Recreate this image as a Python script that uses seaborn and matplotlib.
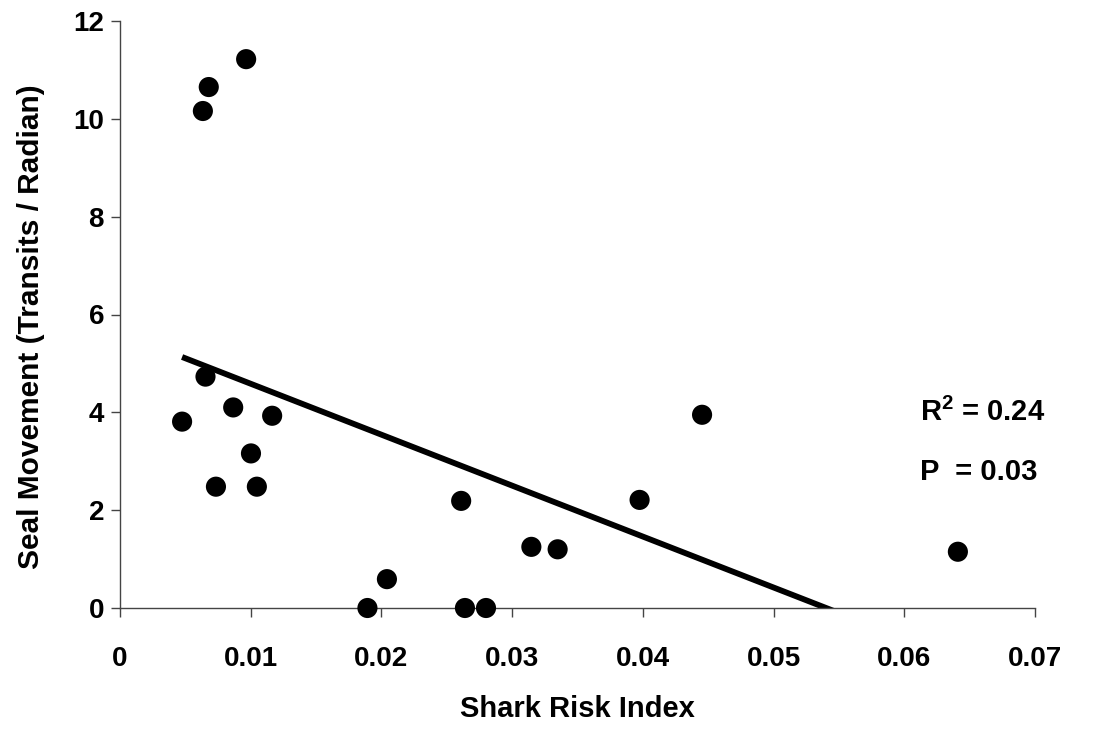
import matplotlib
matplotlib.use("Agg")
import matplotlib.pyplot as plt
import seaborn as sns
import pandas as pd

shark_risk = [0.00965, 0.00679, 0.00634,
              0.00475, 0.00654, 0.00866, 0.01164, 0.01002, 0.00734, 0.01047,
              0.0261, 0.03147, 0.03348, 0.02042, 0.01893, 0.02639, 0.0280,
              0.04453, 0.03975, 0.0641]
seal_movement = [11.22, 10.65, 10.16,
                 3.81, 4.73, 4.10, 3.93, 3.16, 2.48, 2.48,
                 2.19, 1.25, 1.20, 0.59, 0.0, 0.0, 0.0,
                 3.95, 2.21, 1.15]
x_ticks = [0, 0.01, 0.02, 0.03, 0.04, 0.05, 0.06, 0.07]
x_tick_labels = ["0", "0.01", "0.02", "0.03", "0.04", "0.05", "0.06", "0.07"]
y_ticks = [0, 2, 4, 6, 8, 10, 12]
stats_lines = [r"$\mathbf{R^{2}}$ = 0.24", "P  = 0.03"]

df = pd.DataFrame({"x": shark_risk, "y": seal_movement})

sns.set_style("ticks")
plt.rcParams["font.family"] = ["Liberation Sans", "DejaVu Sans"]
plt.rcParams["font.weight"] = "bold"
plt.rcParams["text.color"] = "black"
plt.rcParams["axes.labelcolor"] = "black"
plt.rcParams["mathtext.fontset"] = "custom"
plt.rcParams["mathtext.bf"] = "Liberation Sans:bold"
plt.rcParams["mathtext.rm"] = "Liberation Sans:bold"

fig = plt.figure(figsize=(10.99, 7.33), dpi=100)
ax = fig.add_axes([120/1099, 1 - 608/733, (1035-120)/1099, (608-21)/733])

sns.regplot(data=df, x="x", y="y", ax=ax, ci=None, truncate=True,
            scatter_kws=dict(s=210, color="black", alpha=1, edgecolor="none",
                             zorder=3, clip_on=False),
            line_kws=dict(color="black", lw=4.2, solid_capstyle="butt"))

ax.set_xlim(0, 0.07)
ax.set_ylim(0, 12)
ax.set_xticks(x_ticks)
ax.set_xticklabels(x_tick_labels)
ax.set_yticks(y_ticks)
ax.tick_params(axis="both", direction="out", length=6.5, width=1, color="#444444",
               labelsize=20, labelcolor="black")
ax.tick_params(axis="x", pad=21)
ax.tick_params(axis="y", pad=5)
for lab in ax.get_xticklabels() + ax.get_yticklabels():
    lab.set_fontweight("bold")
ax.set_xlabel("Shark Risk Index", fontsize=21, fontweight="bold", color="black")
ax.set_ylabel("Seal Movement (Transits / Radian)", fontsize=21.5, fontweight="bold", color="black")
ax.xaxis.set_label_coords(0.5, -0.148)
ax.yaxis.set_label_coords(-0.082, 0.48)
for side in ["top", "right"]:
    ax.spines[side].set_visible(False)
for side in ["left", "bottom"]:
    ax.spines[side].set_linewidth(1)
    ax.spines[side].set_color("#444444")

ax.text(0.0612, 3.99, stats_lines[0], fontsize=21, fontweight="bold", color="black",
        va="center", ha="left")
ax.text(0.0612, 2.78, stats_lines[1], fontsize=21, fontweight="bold", color="black",
        va="center", ha="left")

fig.savefig("out.png", dpi=100)
